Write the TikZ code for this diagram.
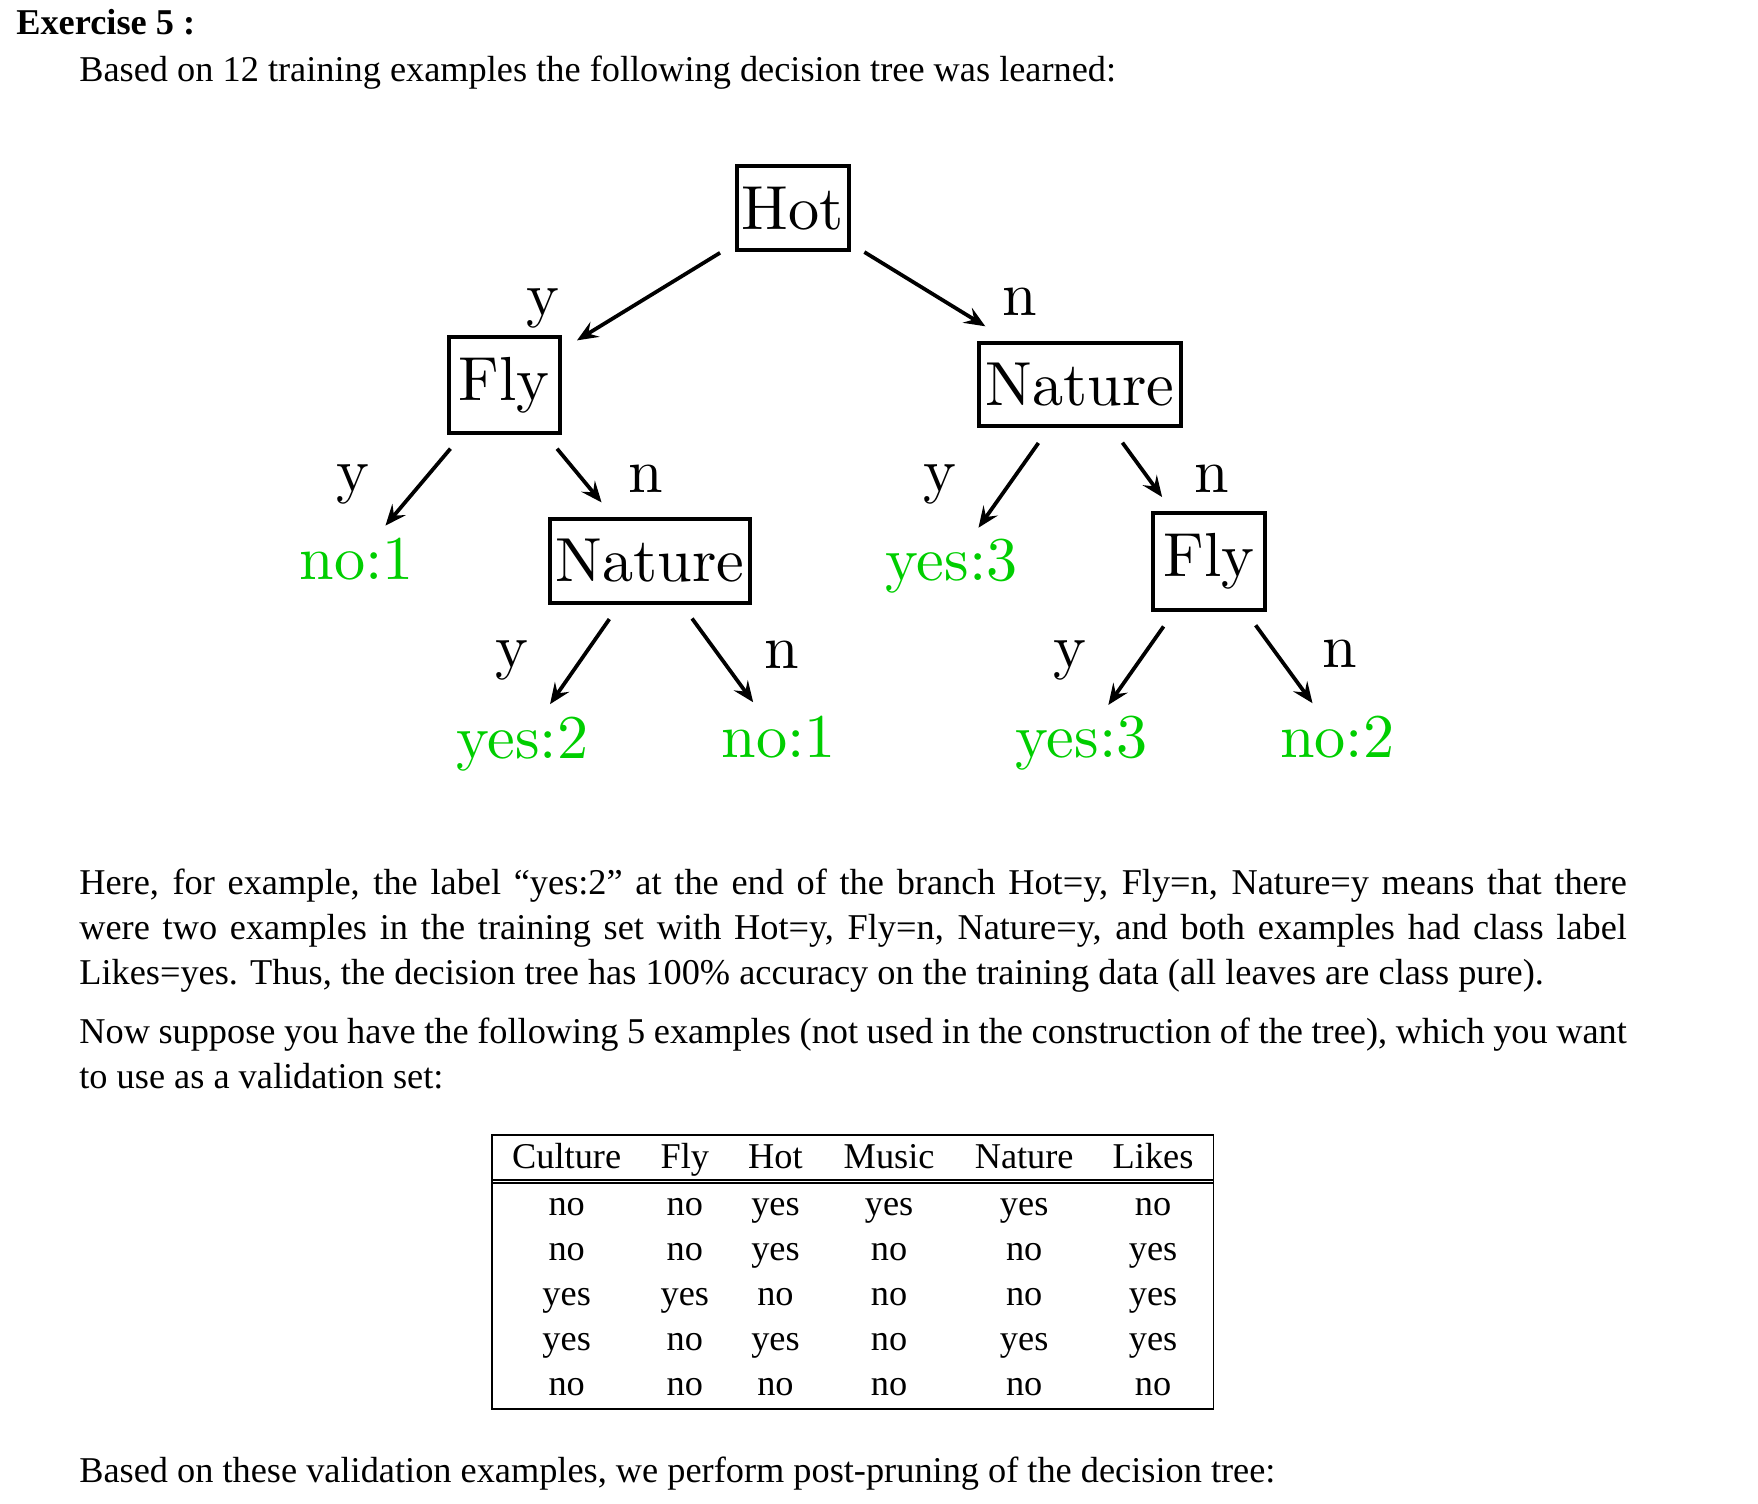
\documentclass[tikz,border=0pt]{standalone}
\usepackage{fontspec}
\setmainfont{Liberation Serif}
\newfontfamily\treelm{lmroman10-regular.otf}
\usetikzlibrary{arrows.meta}
\definecolor{leafgreen}{RGB}{0,206,0}
\newcommand\treefont{\treelm\fontsize{20.74}{25}\selectfont}
\newcommand\bodyfont{\fontsize{12.1}{14.5}\selectfont}
\begin{document}
\begin{tikzpicture}[x=0.375pt,y=-0.375pt,
  tbox/.style={draw, line width=1.35pt, inner sep=0pt, font=\treefont},
  leaf/.style={text=leafgreen, inner sep=0pt, font=\treefont},
  lab/.style={inner sep=0pt, anchor=base, font=\treefont},
  arr/.style={line width=1.25pt, -{Stealth[length=7pt,width=5.8pt,inset=2.6pt]}},
  txt/.style={inner sep=0pt, anchor=base west, font=\bodyfont},
  cell/.style={inner sep=0pt, anchor=base, font=\bodyfont},
  rule/.style={line width=0.5pt}]
\useasboundingbox (0,0) rectangle (1562,1336);

% heading and intro
\node[txt, font=\bodyfont\bfseries] (title) at (14,31) {Exercise 5 :};
\node[txt] (intro) at (70,72) {Based on 12 training examples the following decision tree was learned:};

% tree boxes
\node[tbox, minimum width=37.3pt, minimum height=27.9pt] (hot) at (704.5,185) {Hot};
\node[tbox, minimum width=36.9pt, minimum height=32pt] (flyL) at (448,342) {Fly};
\node[tbox, minimum width=67.3pt, minimum height=27.75pt] (natR) at (959.5,341.5) {Nature};
\node[tbox, minimum width=66.5pt, minimum height=28.1pt] (natL) at (577.5,498.3) {Nature};
\node[tbox, minimum width=37.3pt, minimum height=32.4pt] (flyR) at (1074.4,499) {Fly};

% leaves
\node[leaf] (noA) at (317,497.2) {no:1};
\node[leaf] (yesA) at (845.5,502.6) {yes:3};
\node[leaf] (yesB) at (464,661.1) {yes:2};
\node[leaf] (noB) at (692,655.2) {no:1};
\node[leaf] (yesC) at (961,660.1) {yes:3};
\node[leaf] (noC) at (1188,654.7) {no:2};

% branches
\draw[arr, shorten <=28.46pt, shorten >=28.43pt] (hot.center) -- (flyL.center);
\draw[arr, shorten <=27.94pt, shorten >=36.98pt] (hot.center) -- (natR.center);
\draw[arr, shorten <=27.79pt, shorten >=14.81pt] (flyL.center) -- (noA.center);
\draw[arr, shorten <=27.6pt, shorten >=25.28pt] (flyL.center) -- (natL.center);
\draw[arr, shorten <=23.93pt, shorten >=15.49pt] (natR.center) -- (yesA.center);
\draw[arr, shorten <=24.04pt, shorten >=26.63pt] (natR.center) -- (flyR.center);
\draw[arr, shorten <=23.66pt, shorten >=16.2pt] (natL.center) -- (yesB.center);
\draw[arr, shorten <=23.78pt, shorten >=14.51pt] (natL.center) -- (noB.center);
\draw[arr, shorten <=26.4pt, shorten >=15.49pt] (flyR.center) -- (yesC.center);
\draw[arr, shorten <=26.25pt, shorten >=13.88pt] (flyR.center) -- (noC.center);

% branch labels
\node[lab] (l1) at (482,280) {y};
\node[lab] (l2) at (906,280) {n};
\node[lab] (l3) at (313.5,437) {y};
\node[lab] (l4) at (574,438) {n};
\node[lab] (l5) at (835,437) {y};
\node[lab] (l6) at (1077,438) {n};
\node[lab] (l7) at (455,593) {y};
\node[lab] (l8) at (695,594) {n};
\node[lab] (l9) at (951,593) {y};
\node[lab] (l10) at (1190.5,593.5) {n};

% explanatory paragraphs
\node[txt] (p1) at (70,795) {\makebox[515.6pt][s]{Here, for example, the label “yes:2” at the end of the branch Hot=y, Fly=n, Nature=y means that there}};
\node[txt] (p2) at (70,835) {\makebox[515.6pt][s]{were two examples in the training set with Hot=y, Fly=n, Nature=y, and both examples had class label}};
\node[txt] (p3) at (70,875) {Likes=yes. Thus, the decision tree has 100\% accuracy on the training data (all leaves are class pure).};
\node[txt] (p4) at (70,927) {\makebox[515.6pt][s]{Now suppose you have the following 5 examples (not used in the construction of the tree), which you want}};
\node[txt] (p5) at (70,967) {to use as a validation set:};

% table
\draw[rule] (437,1008.5) rectangle (1078,1252);
\draw[rule] (437,1048.5) -- (1078,1048.5);
\draw[rule] (437,1051.3) -- (1078,1051.3);
\foreach \c/\x in {Culture/503.5,Fly/608.5,Hot/689,Music/790,Nature/910,Likes/1024.5}
  \node[cell] (h\c) at (\x,1038) {\c};
\foreach \r/\a/\b/\cc/\d/\e/\f in {0/no/no/yes/yes/yes/no,1/no/no/yes/no/no/yes,2/yes/yes/no/no/no/yes,3/yes/no/yes/no/yes/yes,4/no/no/no/no/no/no}{
  \pgfmathsetmacro\yy{1080+40*\r}
  \node[cell] (c\r a) at (503.5,\yy) {\a};
  \node[cell] (c\r b) at (608.5,\yy) {\b};
  \node[cell] (c\r c) at (689,\yy) {\cc};
  \node[cell] (c\r d) at (790,\yy) {\d};
  \node[cell] (c\r e) at (910,\yy) {\e};
  \node[cell] (c\r f) at (1024.5,\yy) {\f};
}

\node[txt] (last) at (70,1317) {Based on these validation examples, we perform post-pruning of the decision tree:};
\end{tikzpicture}
\end{document}
